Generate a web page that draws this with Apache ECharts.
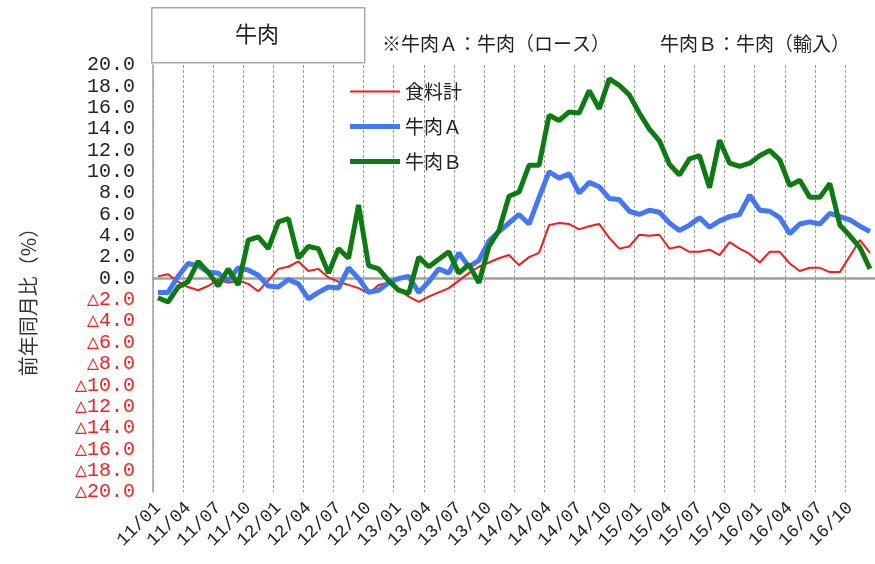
<!DOCTYPE html>
<html><head><meta charset="utf-8">
<script src="https://cdn.jsdelivr.net/npm/echarts@6/dist/echarts.min.js"></script>
<style>html,body{margin:0;padding:0;background:#fff}#c{width:875px;height:564px}</style>
</head><body><div id="c"></div>
<script>
const categories = [
 '11/01','11/02','11/03','11/04','11/05','11/06','11/07','11/08','11/09','11/10','11/11','11/12',
 '12/01','12/02','12/03','12/04','12/05','12/06','12/07','12/08','12/09','12/10','12/11','12/12',
 '13/01','13/02','13/03','13/04','13/05','13/06','13/07','13/08','13/09','13/10','13/11','13/12',
 '14/01','14/02','14/03','14/04','14/05','14/06','14/07','14/08','14/09','14/10','14/11','14/12',
 '15/01','15/02','15/03','15/04','15/05','15/06','15/07','15/08','15/09','15/10','15/11','15/12',
 '16/01','16/02','16/03','16/04','16/05','16/06','16/07','16/08','16/09','16/10','16/11','16/12'
];
const foodTotal = [
 0.2,0.4,-0.3,-0.8,-1.1,-0.7,-0.1,-0.4,-0.2,-0.5,-1.2,-0.2,
 0.9,1.1,1.6,0.7,0.9,0.1,-0.3,-0.6,-0.9,-1.4,-0.6,-0.4,
 -1.0,-1.7,-2.2,-1.7,-1.3,-0.9,-0.2,0.5,1.1,1.5,1.9,2.2,
 1.25,2.0,2.4,5.0,5.2,5.1,4.6,4.9,5.1,3.8,2.8,3.0,
 4.1,4.0,4.1,2.8,3.0,2.5,2.5,2.7,2.2,3.4,2.8,2.3,
 1.5,2.5,2.5,1.4,0.7,1.0,1.0,0.6,0.6,2.1,3.6,2.4
];
const beefA = [
 -1.3,-1.3,0.2,1.4,1.2,0.6,0.5,-0.2,1.0,0.8,0.3,-0.7,
 -0.8,-0.1,-0.5,-1.9,-1.3,-0.8,-0.9,1.0,0.0,-1.3,-1.1,-0.4,
 0.0,0.2,-1.3,-0.3,0.9,0.5,2.4,1.1,1.7,3.5,4.4,5.2,
 6.0,5.1,7.6,10.0,9.4,9.8,8.0,9.0,8.6,7.5,7.4,6.3,
 6.0,6.4,6.2,5.2,4.5,5.0,5.7,4.8,5.4,5.8,6.0,7.8,
 6.4,6.3,5.7,4.2,5.1,5.3,5.1,6.1,5.8,5.5,4.9,4.4
];
const beefB = [
 -1.8,-2.2,-0.8,-0.3,1.6,0.6,-0.7,0.9,-0.6,3.6,3.9,2.8,
 5.3,5.6,1.9,3.0,2.8,0.5,2.8,1.9,6.9,1.2,0.9,-0.2,
 -1.1,-1.4,2.0,1.1,1.8,2.5,0.5,1.3,-0.4,3.0,4.5,7.7,
 8.1,10.6,10.6,15.3,14.8,15.6,15.5,17.6,15.9,18.7,18.1,17.2,
 15.5,14.0,12.9,10.7,9.7,11.2,11.5,8.5,12.95,10.8,10.5,10.8,
 11.5,12.0,11.1,8.7,9.2,7.6,7.6,8.9,5.0,4.0,2.9,0.9
];
const seriesNames = ['食料計','牛肉Ａ','牛肉Ｂ'];
const titleText = '牛肉';
const noteA = '※牛肉Ａ：牛肉（ロース）';
const noteB = '牛肉Ｂ：牛肉（輸入）';
const yName = '前年同月比（%）';

const chart = echarts.init(document.getElementById('c'), null, {renderer:'canvas'});
const serifMono = '"Liberation Mono", "DejaVu Sans Mono", monospace';
const cjk = '"Noto Sans CJK JP", "Noto Sans", sans-serif';
chart.setOption({
  animation: false,
  backgroundColor: '#fff',
  grid: {left: 153, top: 65, width: 725, height: 427, containLabel: false},
  legend: {
    orient: 'vertical', left: 345, top: 77, itemWidth: 50, itemHeight: 14, itemGap: 16,
    symbolKeepAspect: true,
    textStyle: {fontSize: 19, color: '#222', fontFamily: cjk},
    data: [
      {name: seriesNames[0], icon: 'path://M0,0H50V2H0Z'},
      {name: seriesNames[1], icon: 'path://M0,0H50V5H0Z'},
      {name: seriesNames[2], icon: 'path://M0,0H50V5H0Z'}
    ]
  },
  xAxis: [{
    type: 'category', data: categories, boundaryGap: true, position: 'bottom',
    axisLine: {show: false, onZero: false},
    axisTick: {show: false},
    splitLine: {show: true, interval: 2, lineStyle: {type: [3,2], color: '#9a9a9a', width: 1}},
    axisLabel: {interval: 2, rotate: 45, margin: 13, fontSize: 18, color: '#222', fontFamily: serifMono}
  },{
    type: 'category', data: categories, boundaryGap: true, position: 'bottom',
    axisLine: {show: true, onZero: true, lineStyle: {color: '#a0a0a0', width: 2.5}},
    axisTick: {show: false}, axisLabel: {show: false}, splitLine: {show: false}
  }],
  yAxis: {
    type: 'value', min: -20, max: 20, interval: 2,
    axisLine: {show: true, lineStyle: {color: '#a0a0a0', width: 1.5}},
    axisTick: {show: false},
    splitLine: {show: false},
    axisLabel: {
      margin: 18, fontFamily: serifMono, fontSize: 20, color: '#222',
      formatter: v => v < 0 ? '{r|△' + (-v).toFixed(1) + '}' : v.toFixed(1),
      rich: {r: {color: '#ee2222', fontFamily: serifMono, fontSize: 20}}
    }
  },
  graphic: [
    {type: 'rect', left: 151, top: 7, shape: {width: 213, height: 55},
     style: {fill: '#fff', stroke: '#aaaaaa', lineWidth: 1.5}},
    {type: 'text', x: 257, y: 34, style: {text: titleText, fontSize: 22, fontFamily: cjk, fill: '#222',
      textAlign: 'center', textVerticalAlign: 'middle', align: 'center', verticalAlign: 'middle'}},
    {type: 'text', x: 382, y: 44, style: {text: noteA, fontSize: 19, fontFamily: cjk, fill: '#222',
      textAlign: 'left', textVerticalAlign: 'middle', align: 'left', verticalAlign: 'middle'}},
    {type: 'text', x: 660, y: 44, style: {text: noteB, fontSize: 19, fontFamily: cjk, fill: '#222',
      textAlign: 'left', textVerticalAlign: 'middle', align: 'left', verticalAlign: 'middle'}},
    {type: 'text', x: 28, y: 297, rotation: Math.PI/2, style: {text: yName, fontSize: 20, fontFamily: cjk, fill: '#333',
      textAlign: 'center', textVerticalAlign: 'middle', align: 'center', verticalAlign: 'middle'}}
  ],
  series: [
    {name: seriesNames[0], type: 'line', data: foodTotal, symbol: 'none', xAxisIndex: 0,
     lineStyle: {color: '#f01c1c', width: 2}, itemStyle: {color: '#f01c1c'}},
    {name: seriesNames[1], type: 'line', data: beefA, symbol: 'none', xAxisIndex: 0,
     lineStyle: {color: '#4377f5', width: 5}, itemStyle: {color: '#4377f5'}},
    {name: seriesNames[2], type: 'line', data: beefB, symbol: 'none', xAxisIndex: 0,
     lineStyle: {color: '#0e7a12', width: 5}, itemStyle: {color: '#0e7a12'}}
  ]
});
</script></body></html>
